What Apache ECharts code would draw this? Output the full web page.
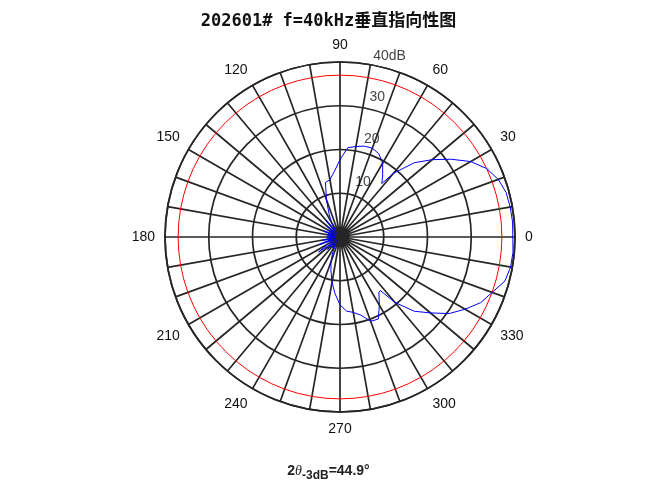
<!DOCTYPE html>
<html><head><meta charset="utf-8">
<script src="https://cdn.jsdelivr.net/npm/echarts@6/dist/echarts.min.js"></script>
<style>html,body{margin:0;padding:0;background:#fff}#c{width:657px;height:492px}</style>
</head><body><div id="c"></div>
<script>
const angles = [0,5,10,15,20,25,30,35,40,45,50,52,55,60,65,70,75,80,85,90,95,100,105,110,115,120,125,130,135,140,145,150,155,160,165,170,175,180,185,190,195,200,205,210,215,220,225,230,235,240,245,250,255,260,265,270,275,280,285,290,295,300,305,307,310,315,320,325,330,335,340,345,350,355,360];
const dB = [39.5,39.6,39.5,39.3,38.5,37,34.5,31,27.5,24,19,15.5,17,19.5,21,21.6,21.5,21,20.5,17.7,15,13.3,12.9,9,6,4,2,5,1,4,2,3,1,4,2,3,1,3,1,4,2,5,1,3,6,2,4,1,3,2,4,6,8,10.5,13,15.5,17,17.5,18.5,20.5,20.7,18,15.5,15.3,19.5,24,27,30.5,33,35.5,37,39,39.6,39.7,39.5];
const radiusTicks = [10,20,30,40];
const radiusTickLabels = ['10','20','30','40dB'];
const refLevel = 37;
const chart = echarts.init(document.getElementById('c'));
const ink = '#262626';
chart.setOption({
  animation:false,
  title:{text:'202601# f=40kHz垂直指向性图',left:'center',top:8,textStyle:{fontSize:17,fontWeight:'bold',color:'#111',fontFamily:'"DejaVu Sans Mono","Noto Sans CJK SC",monospace'}},
  polar:{center:[340,237],radius:175},
  angleAxis:{type:'value',min:0,max:360,interval:10,startAngle:0,clockwise:false,
    axisLine:{lineStyle:{color:ink,width:1.7}},axisTick:{show:false},
    axisLabel:{margin:10,color:'#111',fontSize:14,fontFamily:'Liberation Sans',formatter:v=>(v%30===0&&v<360)?String(v):''},
    splitLine:{show:true,lineStyle:{color:ink,width:1.7}}},
  radiusAxis:{type:'value',min:0,max:40,interval:10,axisLine:{show:false},axisTick:{show:false},axisLabel:{show:false},
    splitLine:{show:true,lineStyle:{color:ink,width:1.7}}},
  series:[
    {type:'line',coordinateSystem:'polar',symbol:'none',silent:true,lineStyle:{color:'#ff0000',width:1},
     data:Array.from({length:73},(_,i)=>[refLevel,i*5])},
    {type:'line',coordinateSystem:'polar',symbol:'none',lineStyle:{color:'#0000ff',width:1},
     data:angles.map((a,i)=>[dB[i],a])},
    {type:'scatter',coordinateSystem:'polar',symbolSize:0,clip:false,z:5,
     data:radiusTicks.map((r,i)=>({value:[[13.5,23.5,33,39][i],[67,72,75,78][i]],
       label:{formatter:radiusTickLabels[i],offset:i===3?[14,-14]:[0,0]}})),
     label:{show:true,position:'inside',color:'#111',fontSize:14,fontFamily:'Liberation Sans'}}
  ],
  graphic:[{type:'text',left:'center',top:464,style:{
    text:'{n|2}{t|θ}{s|-3dB}{n|=44.9°}',
    rich:{n:{fontSize:14,fontWeight:'bold',fontFamily:'Liberation Sans',fill:'#222'},
          t:{fontSize:14,fontStyle:'italic',fontFamily:'Liberation Serif',fill:'#222'},
          s:{fontSize:12,fontWeight:'bold',fontFamily:'Liberation Sans',fill:'#222',verticalAlign:'bottom',padding:[10,0,0,0]}}}}]
});
</script></body></html>
